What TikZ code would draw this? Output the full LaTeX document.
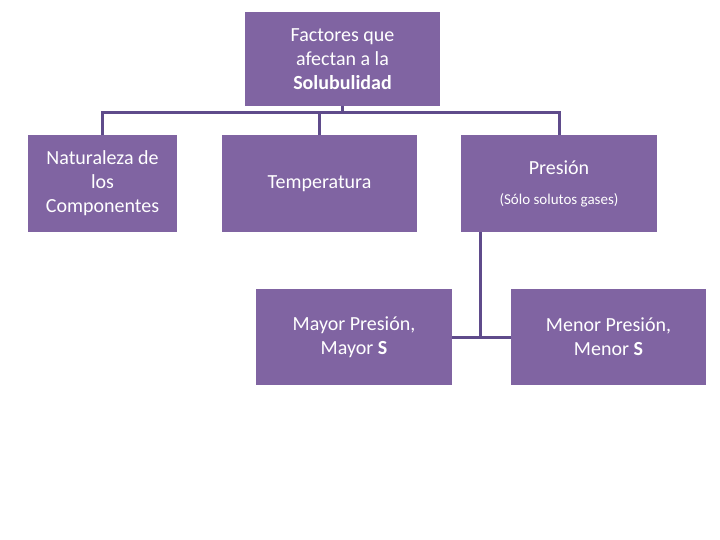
\documentclass[tikz,border=0pt]{standalone}
\usepackage{fontspec}
\setmainfont{Carlito}
\definecolor{boxc}{HTML}{8064A2}
\definecolor{linec}{HTML}{5F4B8B}
\begin{document}
\begin{tikzpicture}[x=1pt,y=-1pt,
  bx/.style={fill=boxc,text=white,align=center,font=\fontsize{20}{24}\selectfont,inner sep=0pt},
  ln/.style={draw=linec,line width=3pt}]
\useasboundingbox (0,0) rectangle (720,540);
\node[bx,minimum width=195,minimum height=94] (top) at (342.5,59) {Factores que\\afectan a la\\\textbf{Solubulidad}};
\node[bx,minimum width=149,minimum height=97] (nat) at (102.5,183.5) {Naturaleza de\\los\\Componentes};
\node[bx,minimum width=195,minimum height=97] (tem) at (319.5,183.5) {Temperatura};
\node[bx,minimum width=196,minimum height=97] (pre) at (559,183.5) {Presión\\[6pt]{\fontsize{15}{18}\selectfont(Sólo solutos gases)}};
\node[bx,minimum width=196,minimum height=96] (may) at (354,337) {Mayor Presión,\\Mayor \textbf{S}};
\node[bx,minimum width=195,minimum height=96] (men) at (608.5,337) {Menor Presión,\\Menor \textbf{S}};
\coordinate (hub) at (342.5,113);
\draw[ln] (top.south) -- (hub);
\draw[ln] (nat.north) |- (hub) -| (pre.north);
\draw[ln] (tem.north) -- (tem.north |- hub);
\coordinate (j) at (480,337);
\draw[ln] (pre.south -| j) -- (j);
\draw[ln] (may.east) -- (men.west);
\end{tikzpicture}
\end{document}
